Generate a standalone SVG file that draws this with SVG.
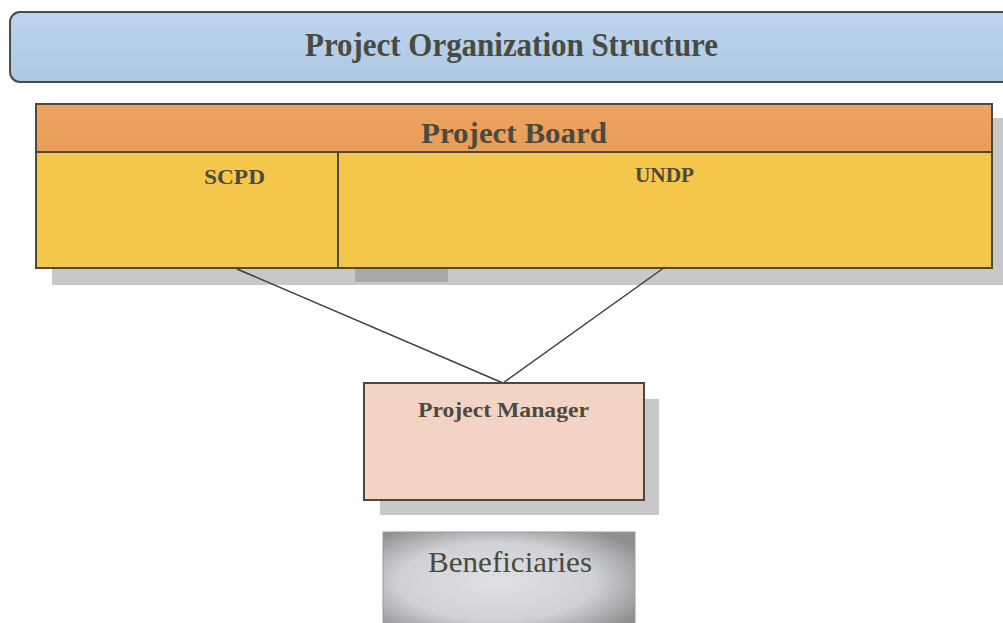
<svg xmlns="http://www.w3.org/2000/svg" width="1003" height="623" viewBox="0 0 1003 623">
<defs>
<style>
.t{font-family:"Liberation Serif","Times New Roman",serif;fill:#4a4a3e;text-anchor:middle}
.b{font-weight:bold}
.edge{stroke:#3e3e3a;stroke-width:1.5;fill:none}
.box{stroke:#4a4a3e;stroke-width:2}
.sh{fill:#c8c8c8}
</style>
<linearGradient id="blue" x1="0" y1="0" x2="0" y2="1">
<stop offset="0" stop-color="#bcd4ee"/><stop offset="1" stop-color="#aec8e4"/>
</linearGradient>
<linearGradient id="orange" x1="0" y1="0" x2="0" y2="1">
<stop offset="0" stop-color="#eea462"/><stop offset="1" stop-color="#e89c58"/>
</linearGradient>
<radialGradient id="grey" cx="0.45" cy="0.5" r="0.65">
<stop offset="0" stop-color="#dfe1e6"/><stop offset="0.6" stop-color="#cfd1d6"/><stop offset="1" stop-color="#8f8f91"/>
</radialGradient>
</defs>
<g id="title">
<rect x="10" y="12" width="1010" height="70" rx="10" fill="url(#blue)" stroke="#4a4a4a" stroke-width="2"/>
<text class="t b" x="511.5" y="56" font-size="33" textLength="413" lengthAdjust="spacingAndGlyphs">Project Organization Structure</text>
</g>
<g id="board">
<rect class="sh" x="52" y="118" width="955" height="167"/>
<rect x="355" y="268" width="93" height="14" fill="#a9a9a9"/>
<rect x="36" y="104" width="956" height="48" fill="url(#orange)" class="box"/>
<rect x="36" y="152" width="302" height="116" fill="#f5c64c" class="box"/>
<rect x="338" y="152" width="654" height="116" fill="#f5c64c" class="box"/>
<text class="t b" x="514" y="143" font-size="30" textLength="186" lengthAdjust="spacingAndGlyphs">Project Board</text>
</g>
<g id="scpd"><text class="t b" x="234.5" y="184" font-size="22" textLength="61" lengthAdjust="spacingAndGlyphs">SCPD</text></g>
<g id="undp"><text class="t b" x="664.5" y="182" font-size="21" textLength="59" lengthAdjust="spacingAndGlyphs">UNDP</text></g>
<g id="connectors">
<line class="edge" x1="237" y1="269" x2="503" y2="383"/>
<line class="edge" x1="665" y1="267" x2="503" y2="383"/>
</g>
<g id="manager">
<rect class="sh" x="380" y="399" width="279" height="116"/>
<rect x="364" y="383" width="280" height="117" fill="#f3d4c4" class="box"/>
<text class="t b" x="503.5" y="417" font-size="22" textLength="171" lengthAdjust="spacingAndGlyphs">Project Manager</text>
</g>
<g id="beneficiaries">
<rect x="383" y="532" width="252" height="100" fill="url(#grey)" stroke="#9a9a9a" stroke-width="1"/>
<text class="t" x="510" y="572" font-size="30" fill="#505050" textLength="164" lengthAdjust="spacingAndGlyphs">Beneficiaries</text>
</g>
</svg>
